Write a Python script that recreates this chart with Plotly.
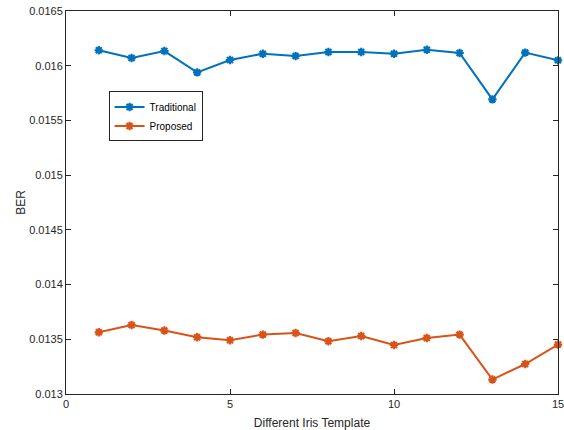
import plotly.graph_objects as go

templates = list(range(1, 16))
traditional = [0.016141, 0.01607, 0.016134, 0.015939, 0.016052, 0.01611, 0.016088,
               0.016125, 0.016125, 0.01611, 0.016146, 0.016116, 0.015692, 0.01612, 0.016049]
proposed = [0.013564, 0.013631, 0.01358, 0.013519, 0.013491, 0.013543, 0.013558,
            0.013482, 0.01353, 0.013448, 0.013512, 0.013543, 0.013132, 0.013274, 0.013452]

y_ticks = [0.013, 0.0135, 0.014, 0.0145, 0.015, 0.0155, 0.016, 0.0165]
y_ticktext = ["0.013", "0.0135", "0.014", "0.0145", "0.015", "0.0155", "0.016", "0.0165"]
x_ticks = [0, 5, 10, 15]

fig = go.Figure()
for name, vals, col in [("Traditional", traditional, "#0072BD"), ("Proposed", proposed, "#D95319")]:
    fig.add_trace(go.Scatter(
        x=templates, y=vals, name=name, mode="lines+markers",
        line=dict(color=col, width=2),
        marker=dict(symbol="asterisk-open", size=7, color=col, line=dict(color=col, width=2.2)),
        cliponaxis=False,
    ))
    fig.add_trace(go.Scatter(
        x=templates, y=vals, showlegend=False, mode="markers", hoverinfo="skip",
        marker=dict(symbol="square", size=4, color=col),
        cliponaxis=False,
    ))

axis_common = dict(showline=True, linecolor="#262626", linewidth=1, mirror="ticks",
                   ticks="inside", ticklen=5, tickcolor="#262626", showgrid=False,
                   zeroline=False, tickfont=dict(size=11, color="#262626"),
                   ticklabeloverflow="allow", automargin=False)

fig.update_layout(
    width=564, height=430,
    margin=dict(l=66, r=6, t=11, b=36),
    paper_bgcolor="white", plot_bgcolor="white",
    font=dict(family="Liberation Sans, Arial, sans-serif", size=11, color="#262626"),
    xaxis=dict(range=[0, 15], tickvals=x_ticks,
               title=dict(text="Different Iris Template", standoff=9, font=dict(size=12)),
               **axis_common),
    yaxis=dict(range=[0.013, 0.0165], tickvals=y_ticks, ticktext=y_ticktext,
               title=dict(text="BER", standoff=0, font=dict(size=12)),
               **axis_common),
    legend=dict(x=0.0865, y=0.79, xanchor="left", yanchor="top",
                bgcolor="white", bordercolor="#262626", borderwidth=1,
                font=dict(size=10, color="#000000"), tracegroupgap=0,
                itemwidth=30),
    showlegend=True,
)

fig.write_html("out.html", config={"displayModeBar": False},
               post_script="document.body.style.margin='0';")
